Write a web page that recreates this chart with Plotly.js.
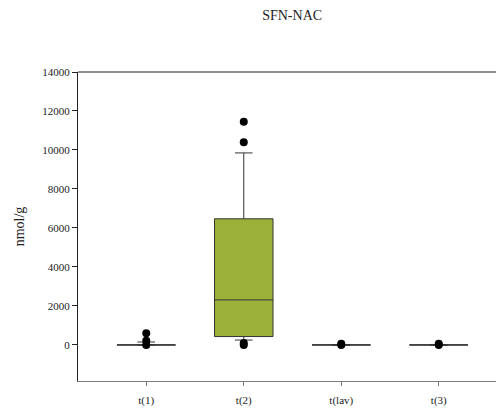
<!DOCTYPE html>
<html>
<head>
<meta charset="utf-8">
<script src="https://cdn.plot.ly/plotly-3.0.1.min.js"></script>
<style>
  html, body { margin: 0; padding: 0; background: #fff; }
  #chart { width: 496px; height: 409px; }
</style>
</head>
<body>
<div id="chart"></div>
<script>
// Sampling times
const categories = ['t(1)', 't(2)', 't(lav)', 't(3)'];

// Box statistics (nmol/g)
const lowerWhisker = [0, 250, 0, 0];
const q1Values     = [0, 430, 0, 0];
const medianValues = [0, 2310, 0, 0];
const q3Values     = [0, 6470, 0, 0];
const upperWhisker = [150, 9850, 0, 0];

// Outlying observations
const outlierCats   = ['t(1)', 't(1)', 't(1)', 't(2)', 't(2)', 't(2)', 't(2)', 't(lav)', 't(lav)', 't(3)', 't(3)'];
const outlierValues = [600, 220, 0, 11450, 10400, 100, 0, 60, 0, 60, 0];

const yTicks = [0, 2000, 4000, 6000, 8000, 10000, 12000, 14000];

const serif = '"Liberation Serif", "DejaVu Serif", serif';

const traces = [
  {
    type: 'box',
    x: categories,
    q1: q1Values,
    median: medianValues,
    q3: q3Values,
    lowerfence: lowerWhisker,
    upperfence: upperWhisker,
    fillcolor: '#9cb13a',
    line: { color: '#333333', width: 1 },
    whiskerwidth: 0.3,
    width: 0.6,
    boxpoints: false,
    hoverinfo: 'skip',
    showlegend: false
  },
  {
    type: 'scatter',
    mode: 'markers',
    x: outlierCats,
    y: outlierValues,
    marker: { color: '#000000', size: 8 },
    hoverinfo: 'skip',
    showlegend: false
  }
];

const layout = {
  width: 496,
  height: 409,
  margin: { l: 78, r: 0, t: 72, b: 28 },
  paper_bgcolor: '#ffffff',
  plot_bgcolor: '#ffffff',
  font: { family: serif, color: '#222222', size: 11 },
  title: {
    text: 'SFN-NAC',
    font: { family: serif, size: 14, color: '#222222' },
    x: 0.589,
    xanchor: 'center',
    y: 0.962,
    yanchor: 'middle'
  },
  xaxis: {
    type: 'category',
    categoryorder: 'array',
    categoryarray: categories,
    range: [-0.70, 3.587],
    showgrid: false,
    zeroline: false,
    showline: true,
    linecolor: '#7a7a7a',
    linewidth: 1,
    mirror: false,
    ticks: 'outside',
    ticklen: 4,
    tickcolor: '#7a7a7a',
    ticklabelstandoff: 5,
    tickfont: { family: serif, size: 11, color: '#222222' }
  },
  yaxis: {
    range: [-1850, 14000],
    tickvals: yTicks,
    ticktext: yTicks.map(String),
    showgrid: false,
    zeroline: false,
    showline: true,
    linecolor: '#222222',
    linewidth: 1,
    ticks: 'outside',
    ticklen: 5,
    tickcolor: '#222222',
    tickfont: { family: serif, size: 11, color: '#222222' },
    title: {
      text: 'nmol/g',
      font: { family: serif, size: 14, color: '#222222' },
      standoff: 14
    }
  },
  shapes: [
    {
      type: 'line', xref: 'paper', yref: 'paper',
      x0: 0, x1: 1, y0: 1, y1: 1,
      line: { color: '#222222', width: 1 }
    }
  ]
};

Plotly.newPlot('chart', traces, layout, { displayModeBar: false, staticPlot: true });
</script>
</body>
</html>
